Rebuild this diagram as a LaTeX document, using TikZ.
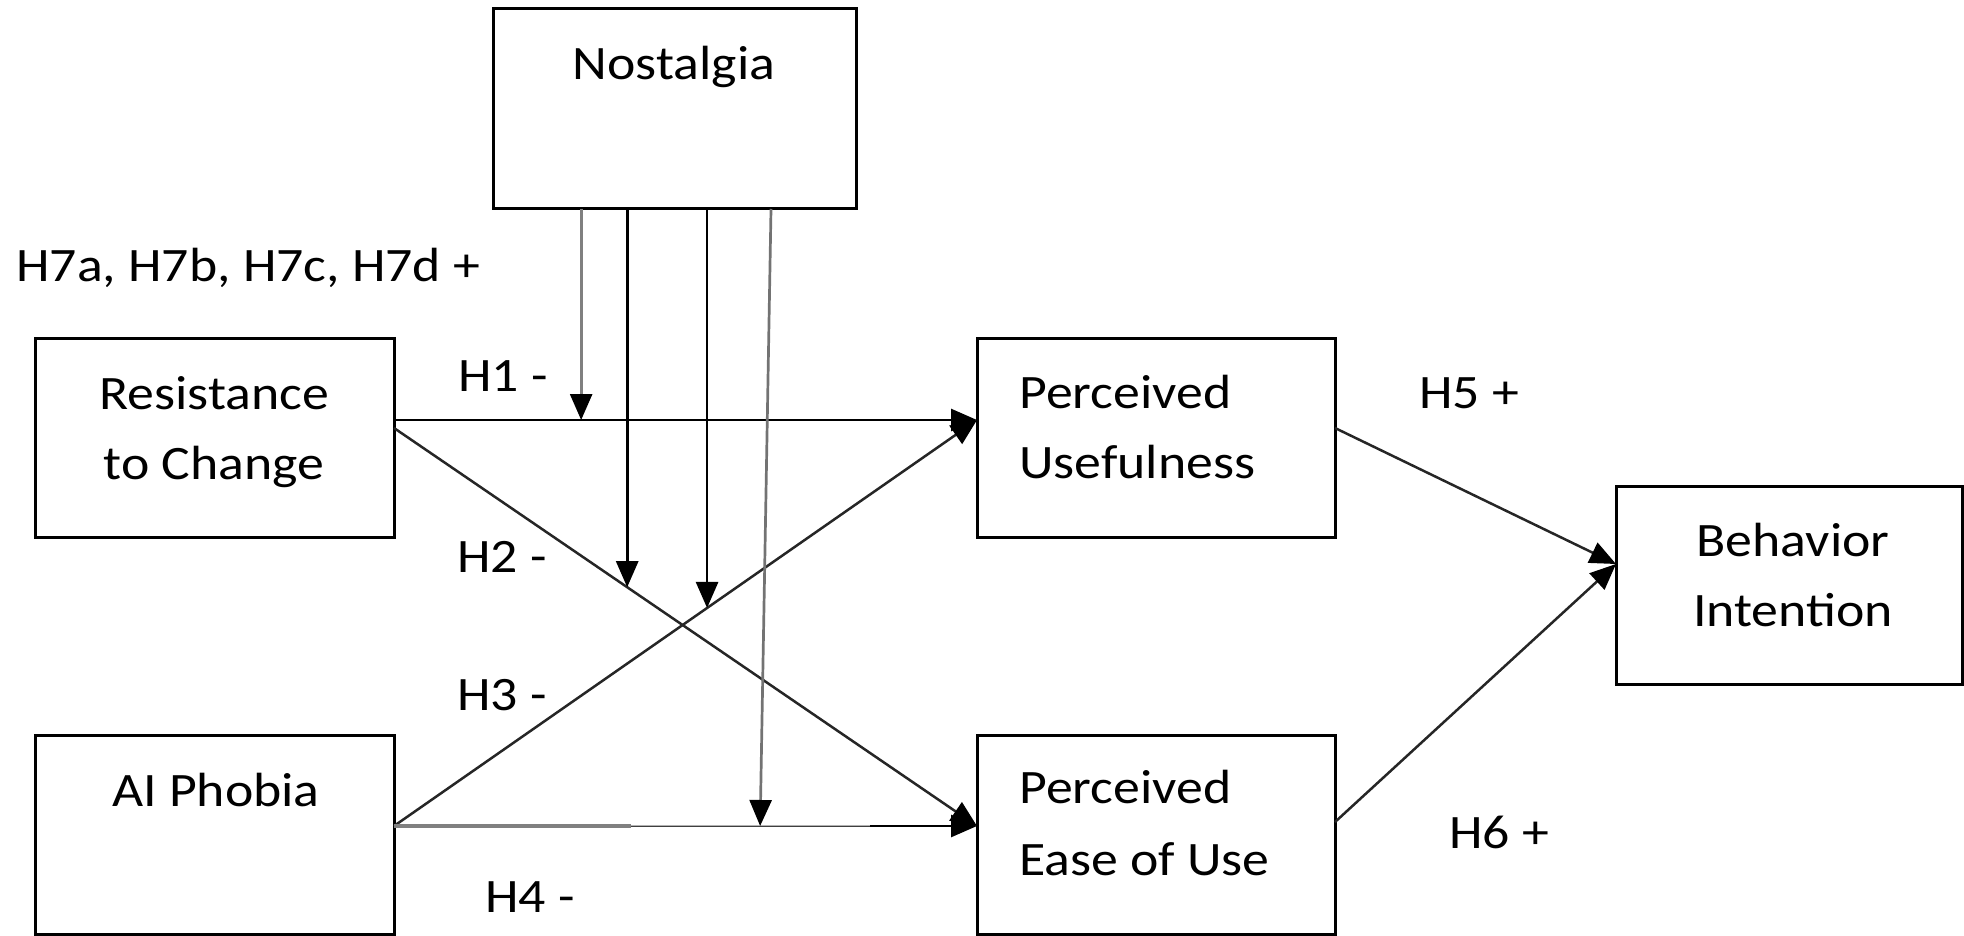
\documentclass[tikz,border=0pt]{standalone}
\usepackage{fontspec}
\setmainfont{Carlito}[FakeStretch=1.12]
\usetikzlibrary{arrows.meta,calc}
\begin{document}
\begin{tikzpicture}[x=0.5pt,y=-0.5pt,
  box/.style={draw=black, line width=1.5pt, inner sep=0pt, outer sep=0pt, minimum width=179.5pt, minimum height=99.5pt},
  txt/.style={inner sep=0pt, font=\fontsize{24}{30}\selectfont},
  tip/.style={-{Triangle[length=13pt,width=11pt,color=black]}},
  con/.style={tip, line width=1.35pt, draw=black},
  con2/.style={tip, line width=1.25pt, draw=black!85},
  mod/.style={tip, line width=1.35pt, draw=black}]
\useasboundingbox (0,0) rectangle (1964,936);

% boxes
\node[box, minimum width=181.5pt, minimum height=100pt] (nos) at (674.5,109) {};
\node[box] (rtc) at (214.5,437.5) {};
\node[box] (ai) at (214.5,835) {};
\node[box, minimum width=179pt] (pu) at (1156,437.5) {};
\node[box, minimum width=179pt] (peu) at (1156,835) {};
\node[box, minimum width=173pt, minimum height=99pt] (bi) at (1789,585) {};

% box texts
\node[txt, anchor=base] (nosT) at (674,80) {Nostalgia};
\node[txt, anchor=base] (rtcT1) at (214,409) {Resistance};
\node[txt, anchor=base] (rtcT2) at (214,479) {to Change};
\node[txt, anchor=base] (aiT) at (216,806) {AI Phobia};
\node[txt, anchor=base west] (puT1) at (1019,408.5) {Perceived};
\node[txt, anchor=base west] (puT2) at (1019,478) {Usefulness};
\node[txt, anchor=base west] (peuT1) at (1019,803) {Perceived};
\node[txt, anchor=base west] (peuT2) at (1019,875) {Ease of Use};
\node[txt, anchor=base] (biT1) at (1793,556) {Behavior};
\node[txt, anchor=base] (biT2) at (1793,626) {Intention};

% connectors
\draw[con] ([yshift=8.75pt]rtc.east) -- coordinate[pos=0.321] (m1) ([yshift=8.75pt]pu.west);
\draw[con2] ([yshift=4.75pt]rtc.east) -- coordinate[pos=0.40] (m2) ([yshift=4.5pt]peu.west);
\draw[con2] ([yshift=4.5pt]ai.east) -- coordinate[pos=0.537] (m3) ([yshift=8.75pt]pu.west);
\draw[con] ([yshift=4.5pt]ai.east) -- coordinate[pos=0.4065] (g1) coordinate[pos=0.628] (m4) coordinate[pos=0.8165] (g2) ([yshift=4.5pt]peu.west);
\draw[line width=1.7pt, draw=black!50] ([yshift=4.5pt]ai.east) -- (g1);
\draw[line width=1.4pt, draw=black!75] (g1) -- (g2);
\draw[line width=0.6pt, draw=black!30] ([yshift=0.45pt]g1) -- ([yshift=0.45pt]g2);
\draw[con2] ([yshift=4.75pt]pu.east) -- ([yshift=10.5pt]bi.west);
\draw[con2] ([yshift=6.5pt]peu.east) -- ([yshift=10.5pt]bi.west);

% moderating arrows
\draw[mod, draw=black!50] (nos.south -| m1) -- (m1);
\draw[mod] (nos.south -| m2) -- (m2);
\draw[mod] (nos.south -| m3) -- (m3);
\draw[mod, draw=black!55] ([xshift=48.25pt]nos.south) -- (m4);

% labels
\node[txt, anchor=base west] (h7) at (16,281) {H7a, H7b, H7c, H7d +};
\node[txt, anchor=base west] (h1) at (458,391) {H1 -};
\node[txt, anchor=base west] (h2) at (457,572) {H2 -};
\node[txt, anchor=base west] (h3) at (457,710) {H3 -};
\node[txt, anchor=base west] (h4) at (485,912) {H4 -};
\node[txt, anchor=base west] (h5) at (1419,408.5) {H5 +};
\node[txt, anchor=base west] (h6) at (1449,848) {H6 +};
\end{tikzpicture}
\end{document}
